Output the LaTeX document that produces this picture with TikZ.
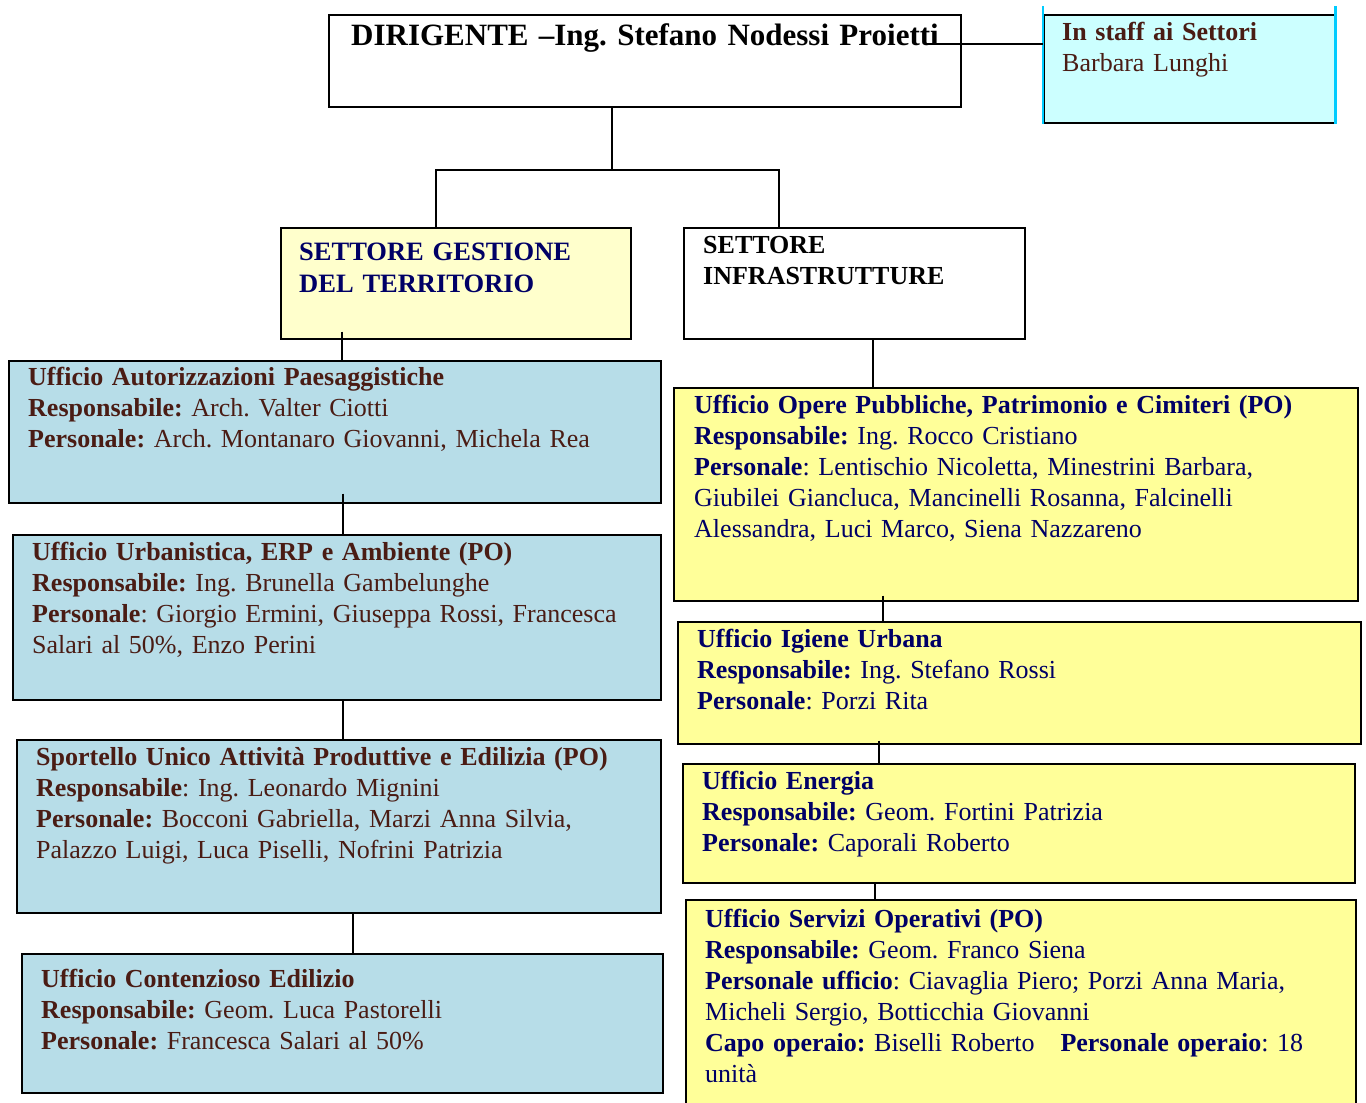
\documentclass[tikz,border=0pt]{standalone}
\usepackage{fontspec}
\setmainfont{Liberation Serif}
\usepackage{xcolor}
\usetikzlibrary{positioning, calc}
\frenchspacing

\definecolor{bluefill}{RGB}{183,221,232}
\definecolor{yellowfill}{RGB}{255,255,153}
\definecolor{paleyellow}{RGB}{255,255,204}
\definecolor{palecyan}{RGB}{204,255,255}
\definecolor{edgecyan}{RGB}{0,204,255}
\definecolor{brownink}{RGB}{74,28,20}
\definecolor{navyink}{RGB}{0,0,102}

\tikzset{
  box/.style={draw=black, line width=1.6pt, inner sep=0pt, anchor=north west},
  bluebox/.style={box, fill=bluefill},
  yellowbox/.style={box, fill=yellowfill},
  txt/.style={anchor=base west, inner sep=0pt, align=left, text width=#1,
    font=\fontsize{26}{31}\selectfont\frenchspacing},
  txt/.default=640pt,
  conn/.style={line width=2pt}
}

\begin{document}
\begin{tikzpicture}[x=1pt, y=-1pt]
  \useasboundingbox[fill=white] (0,0) rectangle (1366,1103);

  % Top level
  \node[box, fill=white, minimum width=632pt, minimum height=92pt] (dirig) at (328,14) {};
  \node[txt=620pt, font=\fontsize{31}{37}\selectfont\bfseries\frenchspacing] (dirigT)
    at ($(dirig.north west)+(23,31)$) {DIRIGENTE --Ing. Stefano Nodessi Proietti};

  \node[box, fill=palecyan, minimum width=291pt, minimum height=108pt] (staff) at (1043,14) {};
  \draw[edgecyan, line width=2.6pt] ([yshift=8pt]staff.north west) -- (staff.south west);
  \draw[edgecyan, line width=2.6pt] ([yshift=8pt]staff.north east) -- (staff.south east);
  \node[txt=270pt, text=brownink] (staffT) at ($(staff.north west)+(19,26)$)
    {\textbf{In staff ai Settori}\\Barbara Lunghi};

  % Sectors
  \node[box, fill=paleyellow, minimum width=350pt, minimum height=111pt] (gestione) at (280,227) {};
  \node[txt=330pt, text=navyink, font=\fontsize{26.5}{32}\selectfont\bfseries] (gestioneT)
    at ($(gestione.north west)+(19,33)$) {SETTORE GESTIONE\\DEL TERRITORIO};

  \node[box, fill=white, minimum width=341pt, minimum height=111pt] (infra) at (683,227) {};
  \node[txt=320pt, font=\fontsize{26}{31}\selectfont\bfseries] (infraT)
    at ($(infra.north west)+(20,26)$) {SETTORE\\INFRASTRUTTURE};

  % Left column offices
  \node[bluebox, minimum width=652pt, minimum height=142pt] (autoriz) at (8,360) {};
  \node[txt, text=brownink] (autorizT) at ($(autoriz.north west)+(20,25)$)
    {\textbf{Ufficio Autorizzazioni Paesaggistiche}\\
     \textbf{Responsabile:} Arch. Valter Ciotti\\
     \textbf{Personale:} Arch. Montanaro Giovanni, Michela Rea};

  \node[bluebox, minimum width=648pt, minimum height=165pt] (urban) at (12,534) {};
  \node[txt, text=brownink] (urbanT) at ($(urban.north west)+(20,26)$)
    {\textbf{Ufficio Urbanistica, ERP e Ambiente (PO)}\\
     \textbf{Responsabile:} Ing. Brunella Gambelunghe\\
     \textbf{Personale}: Giorgio Ermini, Giuseppa Rossi, Francesca\\
     Salari al 50\%, Enzo Perini};

  \node[bluebox, minimum width=644pt, minimum height=173pt] (suap) at (16,739) {};
  \node[txt, text=brownink] (suapT) at ($(suap.north west)+(20,26)$)
    {\textbf{Sportello Unico Attività Produttive e Edilizia (PO)}\\
     \textbf{Responsabile}: Ing. Leonardo Mignini\\
     \textbf{Personale:} Bocconi Gabriella, Marzi Anna Silvia,\\
     Palazzo Luigi, Luca Piselli, Nofrini Patrizia};

  \node[bluebox, minimum width=641pt, minimum height=139pt] (contenz) at (21,953) {};
  \node[txt, text=brownink] (contenzT) at ($(contenz.north west)+(20,34)$)
    {\textbf{Ufficio Contenzioso Edilizio}\\
     \textbf{Responsabile:} Geom. Luca Pastorelli\\
     \textbf{Personale:} Francesca Salari al 50\%};

  % Right column offices
  \node[yellowbox, minimum width=684pt, minimum height=213pt] (opere) at (673,387) {};
  \node[txt=660pt, text=navyink] (opereT) at ($(opere.north west)+(21,26)$)
    {\textbf{Ufficio Opere Pubbliche, Patrimonio e Cimiteri (PO)}\\
     \textbf{Responsabile:} Ing. Rocco Cristiano\\
     \textbf{Personale}: Lentischio Nicoletta, Minestrini Barbara,\\
     Giubilei Giancluca, Mancinelli Rosanna, Falcinelli\\
     Alessandra, Luci Marco, Siena Nazzareno};

  \node[yellowbox, minimum width=683pt, minimum height=122pt] (igiene) at (677,621) {};
  \node[txt=660pt, text=navyink] (igieneT) at ($(igiene.north west)+(20,26)$)
    {\textbf{Ufficio Igiene Urbana}\\
     \textbf{Responsabile:} Ing. Stefano Rossi\\
     \textbf{Personale}: Porzi Rita};

  \node[yellowbox, minimum width=672pt, minimum height=119pt] (energia) at (682,763) {};
  \node[txt=650pt, text=navyink] (energiaT) at ($(energia.north west)+(20,26)$)
    {\textbf{Ufficio Energia}\\
     \textbf{Responsabile:} Geom. Fortini Patrizia\\
     \textbf{Personale:} Caporali Roberto};

  \node[yellowbox, minimum width=670pt, minimum height=230pt] (servizi) at (685,899) {};
  \node[txt=650pt, text=navyink] (serviziT) at ($(servizi.north west)+(20,28)$)
    {\textbf{Ufficio Servizi Operativi (PO)}\\
     \textbf{Responsabile:} Geom. Franco Siena\\
     \textbf{Personale ufficio}: Ciavaglia Piero; Porzi Anna Maria,\\
     Micheli Sergio, Botticchia Giovanni\\
     \textbf{Capo operaio:} Biselli Roberto\quad\textbf{Personale operaio}: 18\\
     unità};

  % Connector columns
  \coordinate (busM) at (612,170);
  \coordinate (busL) at (436,170);
  \coordinate (busR) at (779,170);
  \coordinate (staffjoin) at (927,44);
  \coordinate (colA) at (342,0);
  \coordinate (colB) at (343,0);
  \coordinate (colC) at (353,0);
  \coordinate (colD) at (873,0);
  \coordinate (colE) at (883,0);
  \coordinate (colF) at (879,0);
  \coordinate (colG) at (875,0);

  % Connectors
  \draw[conn] (staffjoin) -- (staffjoin -| staff.west);
  \draw[conn] (busM |- dirig.south) -- (busM);
  \draw[conn] (gestione.north -| busL) |- (busR) -- (busR |- infra.north);
  \draw[conn] ([yshift=8pt]gestione.south -| colA) -- (autoriz.north -| colA);
  \draw[conn] ([yshift=10pt]autoriz.south -| colB) -- (urban.north -| colB);
  \draw[conn] (urban.south -| colB) -- (suap.north -| colB);
  \draw[conn] (suap.south -| colC) -- (contenz.north -| colC);
  \draw[conn] (infra.south -| colD) -- (opere.north -| colD);
  \draw[conn] ([yshift=6pt]opere.south -| colE) -- (igiene.north -| colE);
  \draw[conn] ([yshift=4pt]igiene.south -| colF) -- (energia.north -| colF);
  \draw[conn] (energia.south -| colG) -- (servizi.north -| colG);
\end{tikzpicture}
\end{document}
